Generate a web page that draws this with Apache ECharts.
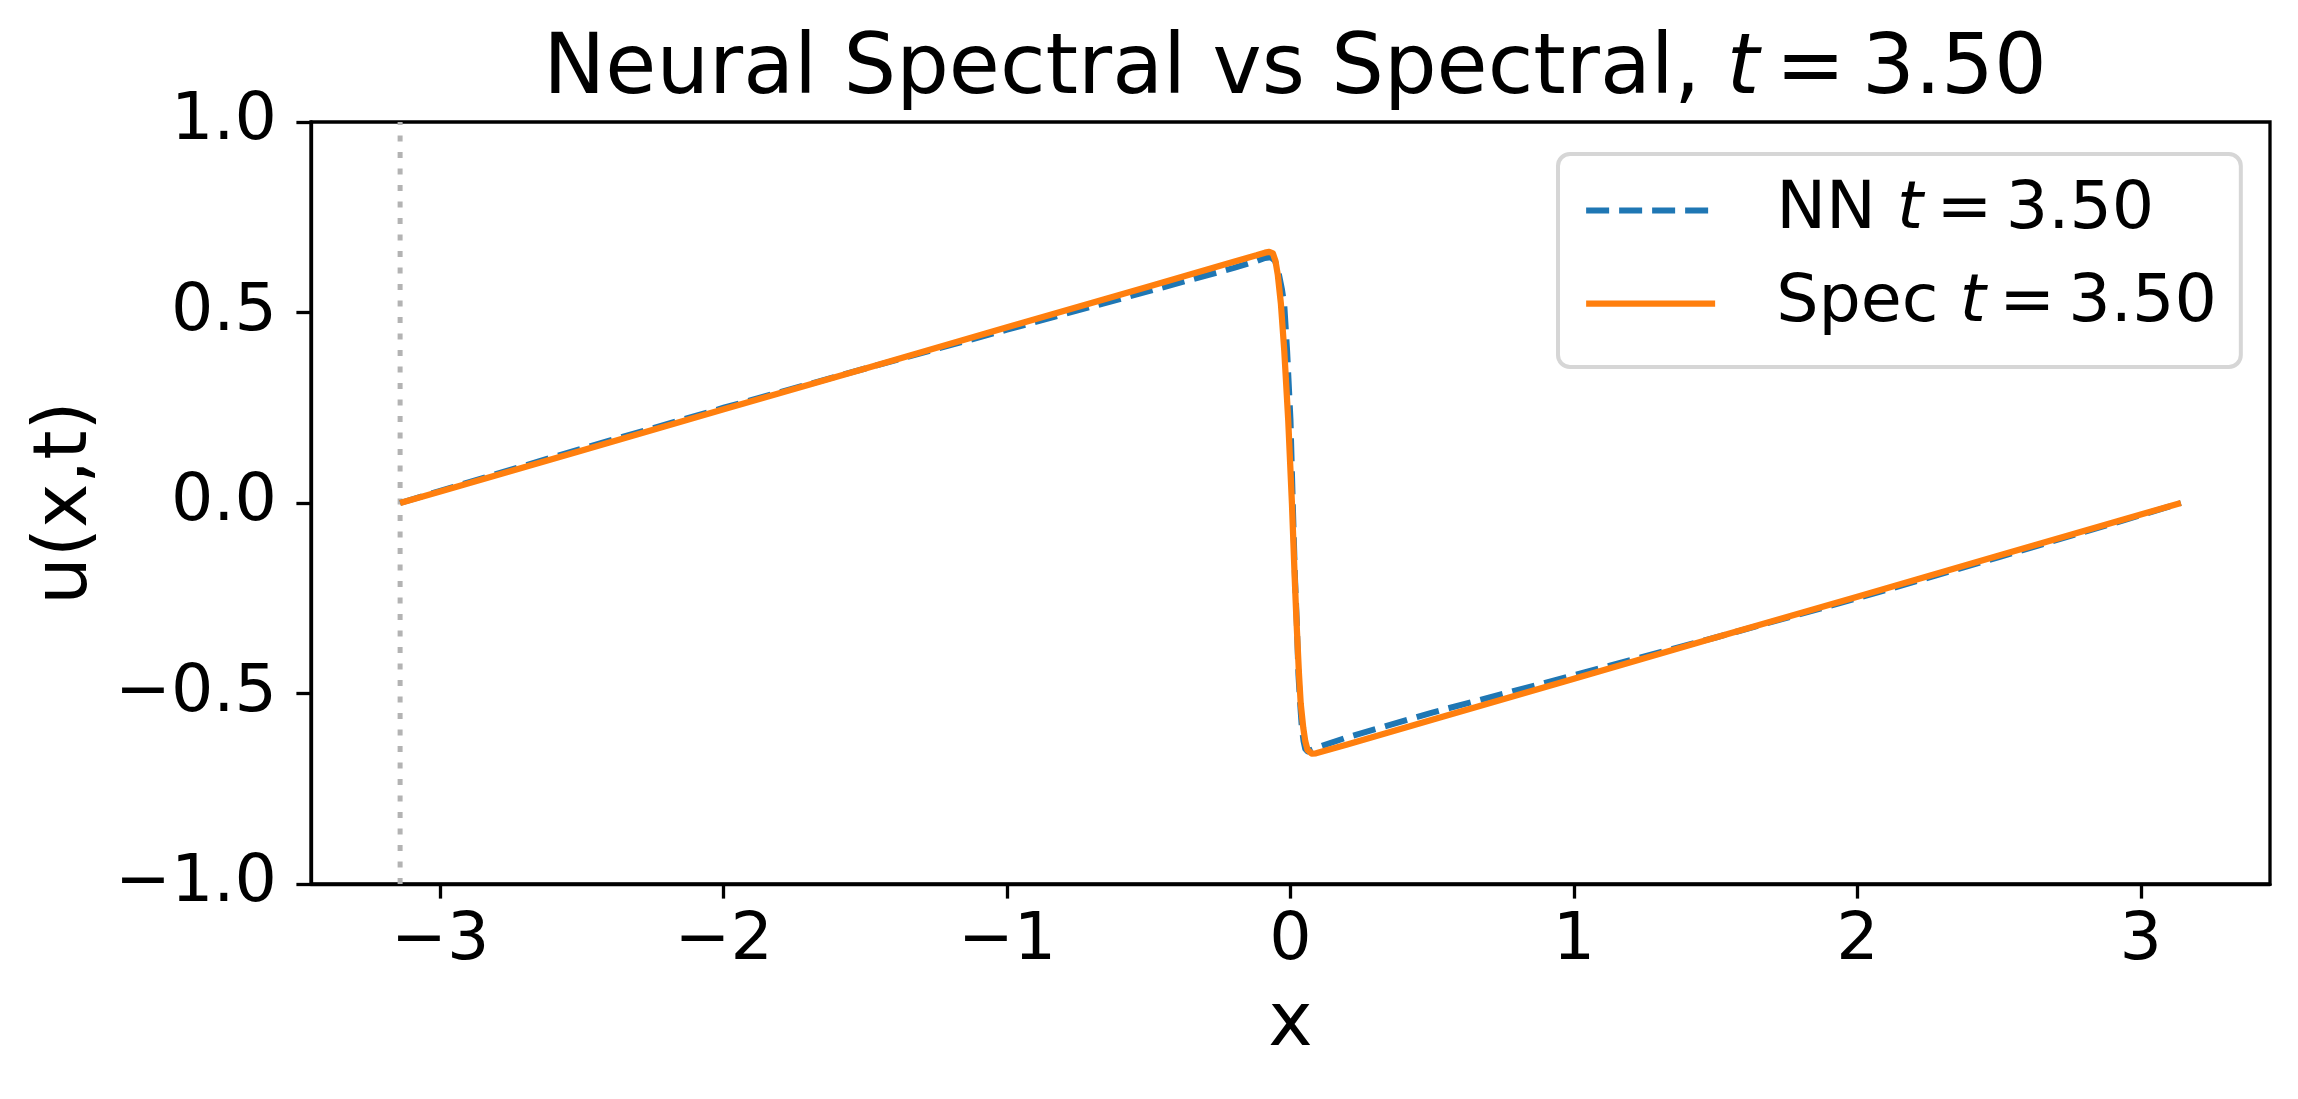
<!DOCTYPE html>
<html>
<head>
<meta charset="utf-8">
<script src="https://cdn.jsdelivr.net/npm/echarts@6/dist/echarts.min.js"></script>
<style>
  html, body { margin: 0; padding: 0; background: #fff; }
  #chart { width: 2298px; height: 1099px; }
</style>
</head>
<body>
<div id="chart"></div>
<script>
// x grid and values
const xSpec = [-3.1416, -3.0, -2.5, -2.0, -1.5, -1.0, -0.5, -0.2, -0.12, -0.09, -0.075, -0.062, -0.053,
  -0.045, -0.034, -0.022, -0.008, 0.005, 0.015, 0.021, 0.030, 0.036, 0.045, 0.052, 0.060, 0.075,
  0.09, 0.2, 0.5, 1.0, 1.5, 2.0, 2.5, 3.0, 3.1416];
const uSpec = [0.000, 0.030, 0.138, 0.246, 0.353, 0.461, 0.568, 0.633, 0.650, 0.657, 0.659, 0.655, 0.635,
  0.600, 0.524, 0.400, 0.217, 0.000, -0.200, -0.308, -0.450, -0.526, -0.590, -0.625, -0.648, -0.658,
  -0.657, -0.634, -0.569, -0.461, -0.353, -0.246, -0.138, -0.030, 0.000];

const xNN = [-3.1416, -3.0, -2.5, -2.0, -1.5, -1.0, -0.5, -0.2, -0.12, -0.09, -0.07, -0.055, -0.045,
  -0.030, -0.022, -0.012, 0.000, 0.008, 0.016, 0.022, 0.028, 0.034, 0.040, 0.046, 0.052, 0.060,
  0.075, 0.10, 0.2, 0.5, 1.0, 1.5, 2.0, 2.5, 3.0, 3.1416];
const uNN = [0.000, 0.032, 0.143, 0.250, 0.353, 0.455, 0.556, 0.617, 0.635, 0.643, 0.645, 0.636, 0.615,
  0.560, 0.520, 0.400, 0.217, 0.000, -0.200, -0.308, -0.450, -0.526, -0.590, -0.625, -0.645, -0.652,
  -0.648, -0.640, -0.615, -0.550, -0.452, -0.353, -0.250, -0.142, -0.032, 0.000];

const xTicks = [-3, -2, -1, 0, 1, 2, 3];
const yTicks = [-1.0, -0.5, 0.0, 0.5, 1.0];
const xLeftEdge = [-3.1416, -3.1416];
const yLeftEdge = [-1, 1];

const FONT = "'DejaVu Sans'";
const BLUE = '#1f77b4';
const ORANGE = '#ff7f0e';
const NN_DASH = [23, 10];
const minus = (s) => s.replace('-', '\u2212');
const pairs = (xs, ys) => xs.map((x, i) => [x, ys[i]]);

const chart = echarts.init(document.getElementById('chart'));

const txt = (extra) => Object.assign({ fontFamily: FONT, color: '#000', fontWeight: 'normal' }, extra);

chart.setOption({
  animation: false,
  backgroundColor: '#fff',
  title: {
    text: '{a|Neural Spectral vs Spectral, }{i|t}{a|\u2009=\u20093.50}',
    left: 1290,
    textAlign: 'center',
    top: 25,
    textStyle: {
      fontWeight: 'normal',
      rich: {
        a: txt({ fontSize: 83, lineHeight: 83 }),
        i: txt({ fontSize: 83, lineHeight: 83, fontStyle: 'italic' })
      }
    }
  },
  legend: {
    data: [
      { name: 'NN', itemStyle: { opacity: 0 },
        lineStyle: { color: BLUE, width: 6, type: NN_DASH, cap: 'butt' } },
      { name: 'Spec', itemStyle: { opacity: 0 },
        lineStyle: { color: ORANGE, width: 6.25, type: 'solid' } }
    ],
    orient: 'vertical',
    left: 1558,
    top: 154,
    padding: [23, 24, 30, 25],
    itemWidth: 129,
    itemHeight: 20,
    itemGap: 26,
    backgroundColor: 'rgba(255,255,255,0.8)',
    borderColor: '#d6d6d6',
    borderWidth: 4,
    borderRadius: 12,
    selectedMode: false,
    formatter: (name) => '{p|' + name + ' }{i|t}{a|\u2009=\u20093.50}',
    textStyle: {
      rich: {
        p: txt({ fontSize: 66.7, lineHeight: 70, padding: [0, 0, 0, 56] }),
        a: txt({ fontSize: 66.7, lineHeight: 70 }),
        i: txt({ fontSize: 66.7, lineHeight: 70, fontStyle: 'italic' })
      }
    }
  },
  grid: {
    left: 311, right: 28, top: 122, bottom: 215,
    show: true, borderColor: '#000', borderWidth: 3.3, backgroundColor: 'transparent'
  },
  xAxis: {
    type: 'value',
    min: -3.456,
    max: 3.456,
    name: 'x',
    nameLocation: 'middle',
    nameGap: 104,
    nameTextStyle: txt({ fontSize: 75 }),
    axisLine: { show: true, onZero: false, lineStyle: { color: '#000', width: 3.3 } },
    axisTick: { show: true, inside: false, length: 14.6, customValues: xTicks,
      lineStyle: { color: '#000', width: 3.3 } },
    axisLabel: { show: true, margin: 24, customValues: xTicks, fontFamily: FONT, fontSize: 66.7,
      color: '#000', formatter: (v) => minus(String(v)) },
    splitLine: { show: false }
  },
  yAxis: {
    type: 'value',
    min: -1,
    max: 1,
    interval: 0.5,
    name: 'u(x,t)',
    nameLocation: 'middle',
    nameGap: 205,
    nameRotate: 90,
    nameTextStyle: txt({ fontSize: 75 }),
    axisLine: { show: true, onZero: false, lineStyle: { color: '#000', width: 3.3 } },
    axisTick: { show: true, inside: false, length: 14.6, lineStyle: { color: '#000', width: 3.3 } },
    axisLabel: { show: true, margin: 34, fontFamily: FONT, fontSize: 66.7, color: '#000',
      formatter: (v) => minus(v.toFixed(1)) },
    splitLine: { show: false }
  },
  series: [
    {
      name: 'edge',
      type: 'line',
      data: pairs(xLeftEdge, yLeftEdge),
      symbol: 'none',
      silent: true,
      lineStyle: { color: '#b3b3b3', width: 5, type: [6, 10.5], cap: 'butt' }
    },
    {
      name: 'NN',
      type: 'line',
      data: pairs(xNN, uNN),
      symbol: 'none',
      showSymbol: false,
      color: BLUE,
      lineStyle: { color: BLUE, width: 6, type: NN_DASH, cap: 'butt', join: 'round' }
    },
    {
      name: 'Spec',
      type: 'line',
      data: pairs(xSpec, uSpec),
      symbol: 'none',
      showSymbol: false,
      color: ORANGE,
      lineStyle: { color: ORANGE, width: 6.25, join: 'round' }
    }
  ]
});
</script>
</body>
</html>
